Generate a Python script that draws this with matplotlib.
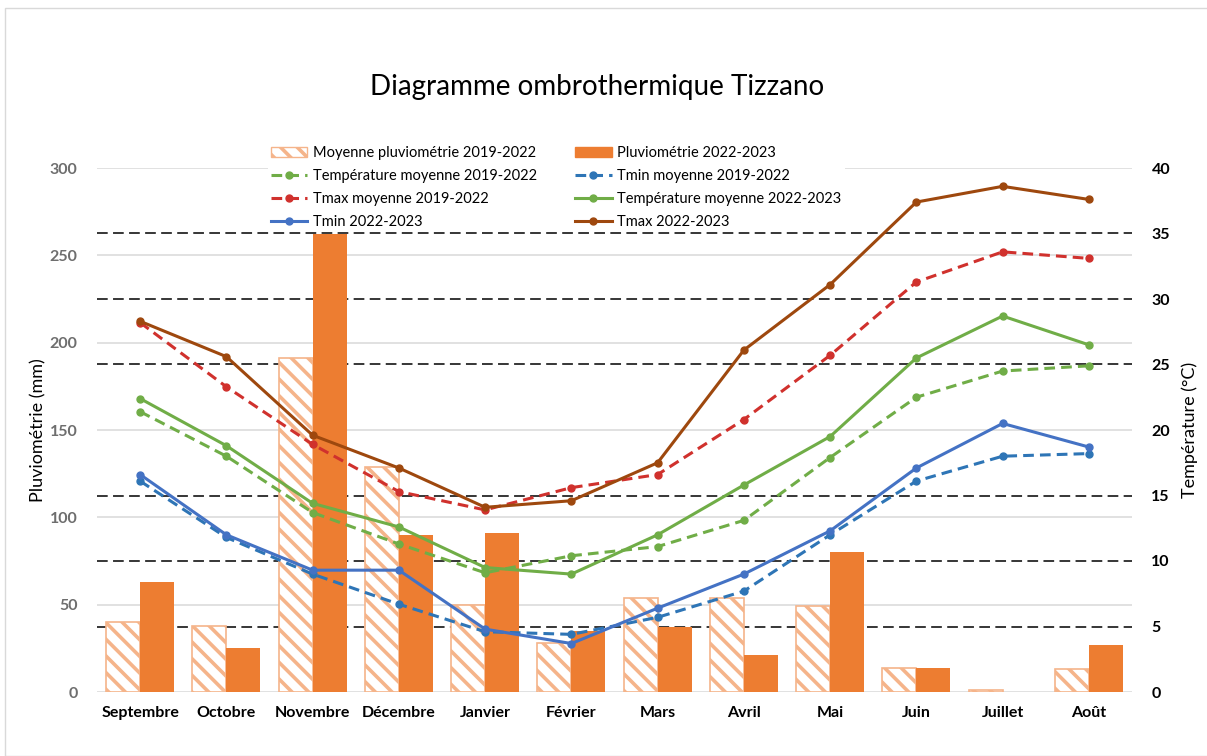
import numpy as np
import matplotlib
matplotlib.use('Agg')
import matplotlib.pyplot as plt
import matplotlib.transforms as mtransforms
from matplotlib.lines import Line2D
from matplotlib.patches import Patch, Rectangle

plt.rcParams['font.family'] = ['Lato', 'DejaVu Sans']
plt.rcParams['hatch.linewidth'] = 2.6

# mois
mois = ['Septembre', 'Octobre', 'Novembre', 'Décembre', 'Janvier', 'Février',
        'Mars', 'Avril', 'Mai', 'Juin', 'Juillet', 'Août']

# pluviométrie (mm)
pluvio_moy_2019_2022 = [40, 38, 191, 129, 50, 28, 54, 54, 49, 14, 1, 13]
pluvio_2022_2023 = [63, 25, 262, 90, 91, 35, 37, 21, 80, 14, 0, 27]

# températures (°C)
tmoy_2019_2022 = [21.4, 18.0, 13.7, 11.3, 9.1, 10.4, 11.1, 13.1, 17.9, 22.5, 24.5, 24.9]
tmin_moy_2019_2022 = [16.1, 11.8, 9.0, 6.7, 4.6, 4.4, 5.7, 7.7, 12.0, 16.1, 18.0, 18.2]
tmax_moy_2019_2022 = [28.2, 23.3, 18.9, 15.3, 13.9, 15.6, 16.6, 20.8, 25.7, 31.3, 33.6, 33.1]
tmoy_2022_2023 = [22.4, 18.8, 14.4, 12.6, 9.5, 9.0, 12.0, 15.8, 19.5, 25.5, 28.7, 26.5]
tmin_2022_2023 = [16.6, 12.0, 9.3, 9.3, 4.8, 3.7, 6.4, 9.0, 12.3, 17.1, 20.5, 18.7]
tmax_2022_2023 = [28.3, 25.6, 19.6, 17.1, 14.1, 14.6, 17.5, 26.1, 31.1, 37.4, 38.6, 37.6]

# lignes de repère (°C)
reperes = [5, 10, 15, 25, 30, 35]

orange = '#ED7D31'
hatch_col = '#F5B48A'
vert = '#70AD47'
rouge = '#D0312D'
bleu_cl = '#2E75B6'
bleu = '#4472C4'
brun = '#9E480E'

x = np.arange(len(mois))
w = 0.395

fig = plt.figure(figsize=(12.07, 7.56), dpi=100)
ax = fig.add_axes([97/1207, 64/756, 1035/1207, 524/756])
ax2 = ax.twinx()
ax2.set_ylim(0, 40)

# barres
ax.bar(x - w/2, pluvio_moy_2019_2022, w, facecolor='white', edgecolor=hatch_col,
       hatch='\\\\', linewidth=1.2, zorder=2)
ax.bar(x + w/2, pluvio_2022_2023, w, color=orange, zorder=2)

# repères pointillés sous les barres
trans = mtransforms.blended_transform_factory(ax.transAxes, ax2.transData)
for v in reperes:
    ax.plot([0, 1], [v, v], transform=trans, color='black', linewidth=1.1,
            linestyle=(0, (7, 3.5)), zorder=1)

ax.set_xlim(-0.5, len(mois) - 0.5)
ax.set_ylim(0, 300)
ax.set_yticks(np.arange(0, 301, 50))
ax.yaxis.grid(True, color='#D9D9D9', linewidth=1.1, zorder=0)
ax.set_axisbelow(True)
ax.set_xticks(x)
ax.set_xticklabels(mois, fontweight='bold', fontsize=11.5)
ax.tick_params(axis='x', length=0, pad=10)
ax.tick_params(axis='y', length=0, pad=14, labelcolor='#6E6E6E', labelsize=11.5)
for t in ax.get_yticklabels():
    t.set_fontweight('bold')
ax.set_ylabel('Pluviométrie (mm)', fontsize=13, labelpad=2)

# températures
ax2.set_yticks(np.arange(0, 41, 5))
ax2.tick_params(axis='y', length=0, pad=14, labelsize=11.5)
for t in ax2.get_yticklabels():
    t.set_fontweight('bold')
ax2.set_ylabel('Température (°C)', fontsize=13, labelpad=8)

dash = (0, (3.5, 2))
ax2.plot(x, tmoy_2019_2022, color=vert, lw=2.2, ls=dash, marker='o', ms=5, zorder=3)
ax2.plot(x, tmin_moy_2019_2022, color=bleu_cl, lw=2.2, ls=dash, marker='o', ms=5, zorder=3)
ax2.plot(x, tmax_moy_2019_2022, color=rouge, lw=2.2, ls=dash, marker='o', ms=5, zorder=3)
ax2.plot(x, tmoy_2022_2023, color=vert, lw=2.2, marker='o', ms=5, zorder=3)
ax2.plot(x, tmin_2022_2023, color=bleu, lw=2.2, marker='o', ms=5, zorder=3)
ax2.plot(x, tmax_2022_2023, color=brun, lw=2.2, marker='o', ms=5, zorder=3)

for a in (ax, ax2):
    for s in a.spines.values():
        s.set_visible(False)

handles = [
    Patch(facecolor='white', edgecolor=hatch_col, hatch='\\\\', label='Moyenne pluviométrie 2019-2022'),
    Line2D([], [], color=vert, lw=2.2, ls=dash, marker='o', ms=5, label='Température moyenne 2019-2022'),
    Line2D([], [], color=rouge, lw=2.2, ls=dash, marker='o', ms=5, label='Tmax moyenne 2019-2022'),
    Line2D([], [], color=bleu, lw=2.2, marker='o', ms=5, label='Tmin 2022-2023'),
    Patch(facecolor=orange, edgecolor=orange, label='Pluviométrie 2022-2023'),
    Line2D([], [], color=bleu_cl, lw=2.2, ls=dash, marker='o', ms=5, label='Tmin moyenne 2019-2022'),
    Line2D([], [], color=vert, lw=2.2, marker='o', ms=5, label='Température moyenne 2022-2023'),
    Line2D([], [], color=brun, lw=2.2, marker='o', ms=5, label='Tmax 2022-2023'),
]
leg = ax2.legend(handles=handles, ncol=2, loc='upper left', bbox_to_anchor=(0.158, 1.062),
                 fontsize=10.5, frameon=True, facecolor='white', edgecolor='none', framealpha=1,
                 handlelength=2.5, handletextpad=0.4, columnspacing=2.6, labelspacing=0.62,
                 borderpad=0.2, fancybox=False)
leg.set_zorder(10)

fig.text(0.495, 1 - 87/756, 'Diagramme ombrothermique Tizzano', ha='center', va='center', fontsize=20)

fig.patches.append(Rectangle((5/1207, 0), 1, 1 - 8/756, transform=fig.transFigure,
                             fill=False, edgecolor='#D9D9D9', linewidth=1))

fig.savefig('out.png', dpi=100)
